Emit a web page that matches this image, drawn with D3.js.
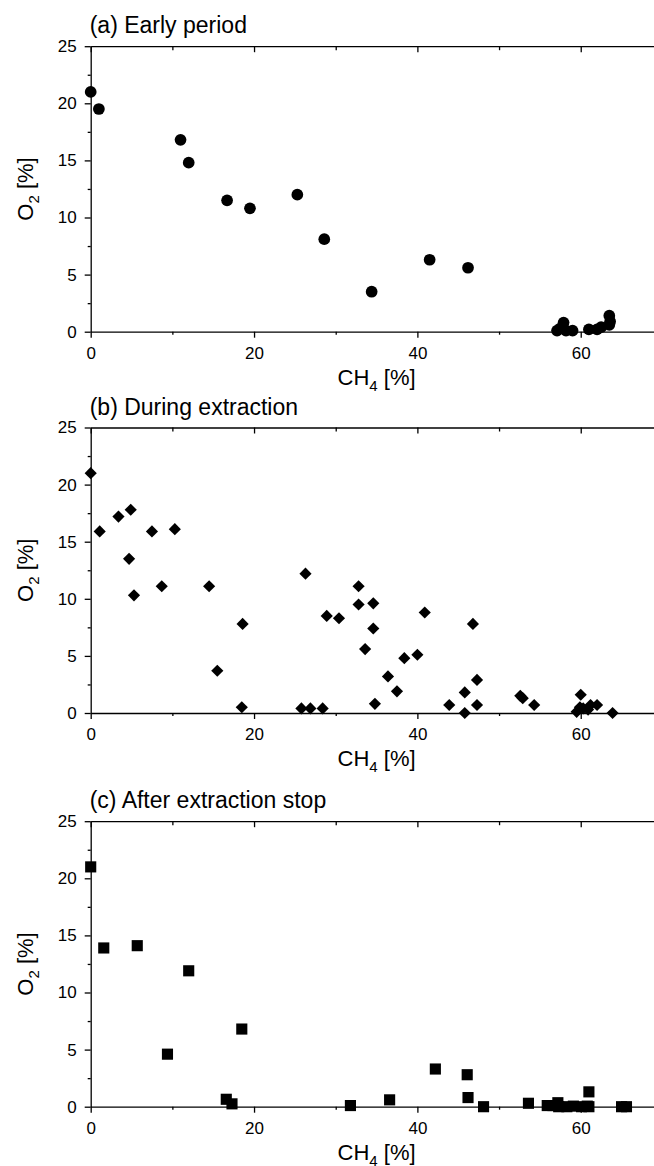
<!DOCTYPE html>
<html>
<head>
<meta charset="utf-8">
<script src="https://cdn.jsdelivr.net/npm/d3@7"></script>
<style>
  body { margin: 0; background: #fff; }
  svg { display: block; font-family: "Liberation Sans", Arial, sans-serif; }
  .axis path, .axis line { stroke: #000; stroke-width: 1.3; }
  .axis text { font-size: 17px; fill: #000; }
</style>
</head>
<body>
<svg id="chart"></svg>
<script>
// tick values
var xTicks = [0, 20, 40, 60];
var xMinor = [10, 30, 50, 70];
var yTicks = [0, 5, 10, 15, 20, 25];
var yMinor = [2.5, 7.5, 12.5, 17.5, 22.5];

// (a) Early period
var earlyCH4 = [0, 1, 11, 12, 16.7, 19.5, 25.3, 28.6, 34.4, 41.5, 46.2, 57.1, 57.5, 57.9, 58.2, 59.0, 61.0, 62.0, 62.5, 63.5, 63.6, 63.5];
var earlyO2  = [21, 19.5, 16.8, 14.8, 11.5, 10.8, 12.0, 8.1, 3.5, 6.3, 5.6, 0.1, 0.3, 0.8, 0.1, 0.1, 0.2, 0.2, 0.4, 1.4, 0.9, 0.6];

// (b) During extraction
var duringCH4 = [0, 1.1, 3.4, 4.9, 4.7, 5.3, 7.5, 8.7, 10.3, 14.5, 15.5, 18.6, 18.5, 26.3, 25.8, 26.9, 28.4, 28.9, 30.4, 32.8, 32.8, 34.6, 34.6, 33.6, 34.8, 36.4, 37.5, 38.4, 40.0, 40.9, 43.9, 45.8, 45.8, 46.8, 47.3, 47.3, 52.6, 52.9, 54.3, 60.0, 59.5, 59.9, 60.3, 60.9, 61.2, 62.0, 63.9];
var duringO2  = [21, 15.9, 17.2, 17.8, 13.5, 10.3, 15.9, 11.1, 16.1, 11.1, 3.7, 7.8, 0.5, 12.2, 0.4, 0.4, 0.4, 8.5, 8.3, 11.1, 9.5, 9.6, 7.4, 5.6, 0.8, 3.2, 1.9, 4.8, 5.1, 8.8, 0.7, 1.8, 0, 7.8, 2.9, 0.7, 1.5, 1.3, 0.7, 1.6, 0.1, 0.5, 0.4, 0.3, 0.7, 0.7, 0];

// (c) After extraction stop
var afterCH4 = [0, 1.6, 5.7, 12.0, 9.4, 18.5, 16.6, 17.3, 31.8, 36.6, 42.2, 46.1, 46.2, 48.1, 53.6, 55.9, 56.6, 57.2, 57.3, 58.3, 59.1, 60.1, 60.8, 61.0, 61.0, 65.0, 65.6];
var afterO2  = [21, 13.9, 14.1, 11.9, 4.6, 6.8, 0.65, 0.25, 0.1, 0.6, 3.3, 2.8, 0.8, 0, 0.3, 0.1, 0.1, 0.35, 0, 0, 0.05, 0, 0.05, 0, 1.3, 0, 0];

var svgWidth = 654;
var svgHeight = 1166;
var left = 90.7;
var plotW = 571.7;   // 0..70, right part is cut off by the page edge
var plotH = 285.5;

var svg = d3.select("#chart")
  .attr("width", svgWidth)
  .attr("height", svgHeight);

var xScale = d3.scaleLinear().domain([0, 70]).range([0, plotW]);
var yScale = d3.scaleLinear().domain([0, 25]).range([plotH, 0]);

var panels = [
  { title: "(a) Early period", top: 46.2, xs: earlyCH4, ys: earlyO2, symbol: d3.symbolCircle, size: 108, rotate: 0 },
  { title: "(b) During extraction", top: 427.5, xs: duringCH4, ys: duringO2, symbol: d3.symbolSquare, size: 74, rotate: 45 },
  { title: "(c) After extraction stop", top: 821.2, xs: afterCH4, ys: afterO2, symbol: d3.symbolSquare, size: 124, rotate: 0 }
];

panels.forEach(function (p) {
  var g = svg.append("g")
    .attr("transform", "translate(" + left + "," + p.top + ")");

  // panel title
  g.append("text")
    .attr("x", -1)
    .attr("y", -13)
    .style("font-size", "23px")
    .text(p.title);

  // minor ticks (drawn first, no labels)
  g.append("g")
    .attr("class", "axis")
    .attr("transform", "translate(0," + plotH + ")")
    .call(d3.axisBottom(xScale).tickValues(xMinor).tickSize(3).tickFormat(""))
    .select(".domain").remove();
  g.append("g")
    .attr("class", "axis")
    .call(d3.axisTop(xScale).tickValues(xMinor).tickSize(-4).tickFormat(""))
    .select(".domain").remove();
  g.append("g")
    .attr("class", "axis")
    .call(d3.axisLeft(yScale).tickValues(yMinor).tickSize(3).tickFormat(""))
    .select(".domain").remove();

  // bottom axis
  g.append("g")
    .attr("class", "axis")
    .attr("transform", "translate(0," + plotH + ")")
    .call(d3.axisBottom(xScale).tickValues(xTicks).tickSize(6).tickSizeOuter(0).tickPadding(9));

  // top axis, ticks pointing inward
  g.append("g")
    .attr("class", "axis")
    .call(d3.axisTop(xScale).tickValues(xTicks).tickSize(-6).tickSizeOuter(0).tickFormat(""));

  // left axis
  g.append("g")
    .attr("class", "axis")
    .call(d3.axisLeft(yScale).tickValues(yTicks).tickSize(6).tickSizeOuter(0).tickPadding(8));

  // x axis title
  var xt = g.append("text")
    .attr("x", xScale(35))
    .attr("y", plotH + 53)
    .attr("text-anchor", "middle")
    .style("font-size", "22px");
  xt.append("tspan").text("CH");
  xt.append("tspan").attr("dy", 6).style("font-size", "15px").text("4");
  xt.append("tspan").attr("dy", -6).text(" [%]");

  // y axis title
  var yt = g.append("text")
    .attr("transform", "translate(" + (33 - left) + "," + (plotH / 2) + ") rotate(-90)")
    .attr("text-anchor", "middle")
    .style("font-size", "22px");
  yt.append("tspan").text("O");
  yt.append("tspan").attr("dy", 6).style("font-size", "15px").text("2");
  yt.append("tspan").attr("dy", -6).text(" [%]");

  // points
  var pts = p.xs.map(function (x, i) { return { x: x, y: p.ys[i] }; });
  var sym = d3.symbol().type(p.symbol).size(p.size);
  g.selectAll(".pt")
    .data(pts)
    .enter()
    .append("path")
    .attr("class", "pt")
    .attr("d", sym)
    .attr("fill", "#000")
    .attr("transform", function (d) {
      return "translate(" + xScale(d.x) + "," + yScale(d.y) + ") rotate(" + p.rotate + ")";
    });
});
</script>
</body>
</html>
